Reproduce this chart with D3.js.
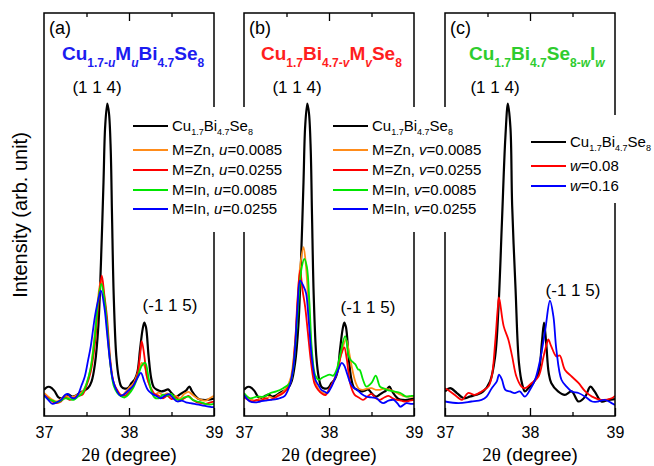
<!DOCTYPE html>
<html><head><meta charset="utf-8">
<script src="https://cdn.jsdelivr.net/npm/d3@7"></script>
<style>
html,body{margin:0;padding:0;background:#fff;}
svg{display:block;font-family:Arial,"Liberation Sans",Helvetica,sans-serif;}
</style></head>
<body><svg id="chart" width="654" height="466"></svg>
<script>
// ---------- DATA (2θ in degree, intensity in arb. unit) ----------
const xTicks = [37, 38, 39];
const xMinorTicks = [37.5, 38.5];

// undoped reference Cu1.7Bi4.7Se8 (panels a and b)
const blackAB = [[37.0,6.5],[37.04,7.2],[37.07,7.2],[37.12,6.3],[37.17,4.6],[37.21,4.4],[37.25,5.0],[37.29,5.3],[37.33,4.8],[37.37,5.0],[37.42,5.7],[37.47,6.3],[37.52,7.0],[37.56,8.6],[37.60,13.0],[37.64,22.5],[37.67,38],[37.70,58],[37.72,72],[37.745,77.5],[37.765,75],[37.785,66],[37.80,50],[37.82,30],[37.85,15],[37.88,9.5],[37.91,7.3],[37.95,6.8],[37.99,7.0],[38.03,8.2],[38.07,9.2],[38.10,11],[38.13,16.5],[38.16,21.5],[38.18,23.2],[38.20,22],[38.23,15],[38.26,9.5],[38.29,7.2],[38.33,6.5],[38.38,6.1],[38.42,6.3],[38.46,6.6],[38.50,5.7],[38.55,4.8],[38.59,5.2],[38.63,5.8],[38.67,6.3],[38.71,7.3],[38.74,6.2],[38.78,5.0],[38.82,4.2],[38.87,4.0],[38.92,4.0],[38.97,4.2],[39.0,4.3]];

// panel (a): Cu(1.7-u) M(u) Bi4.7 Se8
const aZn1 = [[37.0,5.7],[37.05,4.8],[37.1,4.0],[37.15,3.6],[37.2,4.2],[37.25,5.0],[37.3,4.6],[37.35,4.8],[37.4,5.3],[37.45,6.0],[37.5,8.0],[37.55,12],[37.6,21],[37.64,30],[37.67,33.6],[37.70,31],[37.73,25],[37.76,17],[37.8,10],[37.84,7],[37.88,5.5],[37.92,5.0],[37.96,6.0],[38.0,7.0],[38.05,8.0],[38.1,10.5],[38.15,13.2],[38.18,12.5],[38.22,9],[38.26,6.5],[38.3,5.3],[38.35,5.8],[38.4,5.2],[38.45,5.6],[38.5,4.8],[38.55,5.0],[38.6,4.4],[38.65,5.5],[38.7,6.0],[38.75,5.2],[38.8,4.4],[38.85,4.0],[38.9,3.8],[38.95,4.4],[39.0,5.0]];
const aZn2 = [[37.0,5.2],[37.05,4.4],[37.1,3.6],[37.15,3.2],[37.2,3.6],[37.25,4.6],[37.3,4.0],[37.35,4.4],[37.4,5.0],[37.45,5.25],[37.5,7.5],[37.55,11],[37.6,18],[37.64,28],[37.68,34.8],[37.71,30],[37.74,24.8],[37.78,14],[37.82,8.2],[37.86,6.5],[37.9,5.3],[37.95,5.0],[38.0,6.0],[38.05,7.5],[38.09,9.5],[38.13,15],[38.15,18.6],[38.18,15],[38.21,9.8],[38.25,7.3],[38.3,5.5],[38.35,5.0],[38.4,4.4],[38.45,5.0],[38.5,4.2],[38.55,4.6],[38.6,3.8],[38.65,4.4],[38.7,5.0],[38.75,4.0],[38.8,3.4],[38.85,3.2],[38.9,3.0],[38.95,3.3],[39.0,3.6]];
const aIn1 = [[37.0,5.0],[37.05,4.2],[37.1,3.8],[37.15,3.4],[37.2,3.8],[37.25,4.4],[37.3,4.2],[37.35,4.0],[37.4,4.8],[37.45,5.6],[37.5,8.0],[37.55,12],[37.6,20],[37.64,29],[37.675,32.75],[37.71,29],[37.74,23],[37.78,13],[37.82,7.5],[37.86,5.8],[37.9,5.0],[37.95,4.6],[38.0,5.5],[38.05,7],[38.1,9.5],[38.15,12.5],[38.19,13.2],[38.23,9.5],[38.26,6.5],[38.3,4.6],[38.35,4.4],[38.4,5.3],[38.45,5.0],[38.5,5.5],[38.55,4.2],[38.6,4.0],[38.65,4.6],[38.7,4.8],[38.75,4.0],[38.8,3.6],[38.85,3.4],[38.9,3.0],[38.95,2.8],[39.0,3.0]];
const aIn2 = [[37.0,5.25],[37.05,4.0],[37.1,3.0],[37.15,3.4],[37.2,4.0],[37.25,5.3],[37.28,5.5],[37.32,4.6],[37.36,4.4],[37.4,5.3],[37.44,7.5],[37.48,9.8],[37.52,14],[37.55,17.3],[37.6,24.8],[37.64,29],[37.67,31.1],[37.71,27],[37.74,21],[37.78,13],[37.81,9],[37.86,6.1],[37.9,5.0],[37.95,5.5],[38.0,6.5],[38.05,7.5],[38.1,9.5],[38.14,10.7],[38.18,8.5],[38.22,6.5],[38.27,5.5],[38.32,5.0],[38.37,4.4],[38.42,5.0],[38.47,5.4],[38.52,4.4],[38.57,3.6],[38.62,3.8],[38.67,3.4],[38.72,3.2],[38.77,3.0],[38.82,2.8],[38.87,2.6],[38.92,2.4],[38.97,2.2],[39.0,2.2]];

// panel (b): Cu1.7 Bi(4.7-v) M(v) Se8
const bZn1 = [[37.0,5.5],[37.05,4.6],[37.1,4.0],[37.15,3.8],[37.2,4.6],[37.25,4.2],[37.3,4.8],[37.35,4.4],[37.4,5.2],[37.45,5.8],[37.5,7.0],[37.55,9.5],[37.6,18],[37.63,28],[37.66,37],[37.70,41.9],[37.73,37],[37.76,27],[37.8,15],[37.84,8.5],[37.88,6.5],[37.92,5.8],[37.96,5.5],[38.0,6.5],[38.05,8.5],[38.1,11.5],[38.15,16],[38.2,19],[38.23,16.5],[38.27,12],[38.31,8.5],[38.35,6.8],[38.4,6.5],[38.45,6.8],[38.5,6.9],[38.55,6.5],[38.6,6.5],[38.65,6.8],[38.7,6.6],[38.76,6.1],[38.82,5.5],[38.87,5.0],[38.92,4.8],[38.97,4.8],[39.0,4.8]];
const bZn2 = [[37.0,4.6],[37.05,4.0],[37.1,3.6],[37.15,4.0],[37.2,3.8],[37.25,4.4],[37.3,4.0],[37.35,4.4],[37.4,5.0],[37.45,5.5],[37.5,6.5],[37.55,8.5],[37.6,18],[37.63,29],[37.66,36.1],[37.69,31],[37.72,27],[37.75,21],[37.79,13],[37.83,8],[37.87,6.5],[37.92,5.5],[37.96,5.2],[38.0,6.5],[38.05,8.5],[38.1,11],[38.14,15],[38.18,17],[38.21,14],[38.25,8],[38.3,5.3],[38.35,4.6],[38.4,4.0],[38.45,4.8],[38.5,5.5],[38.55,4.4],[38.6,4.0],[38.65,4.6],[38.7,5.0],[38.75,4.4],[38.8,4.0],[38.85,3.8],[38.9,3.6],[38.95,3.8],[39.0,4.0]];
const bIn1 = [[37.0,5.7],[37.07,4.4],[37.15,4.8],[37.23,4.8],[37.31,5.7],[37.38,6.1],[37.46,6.9],[37.54,8.2],[37.58,12],[37.62,22],[37.65,31],[37.68,37],[37.71,39],[37.74,37],[37.77,28],[37.8,16],[37.84,10],[37.88,9.0],[37.92,9.5],[37.95,9.8],[38.01,10.25],[38.05,10.0],[38.09,11.5],[38.13,15],[38.19,19.8],[38.23,15],[38.25,14],[38.29,13.2],[38.31,12.8],[38.345,11.5],[38.36,11.5],[38.4,9],[38.44,7.3],[38.5,8.2],[38.55,10.0],[38.6,7.3],[38.64,6.9],[38.68,6.5],[38.76,6.1],[38.84,5.7],[38.91,4.8],[38.97,5.0],[39.0,5.0]];
const bIn2 = [[37.0,5.25],[37.07,3.6],[37.15,3.4],[37.19,3.6],[37.25,3.8],[37.31,4.0],[37.38,4.2],[37.42,4.4],[37.48,5.0],[37.54,7.75],[37.58,12],[37.6,16.5],[37.63,27],[37.66,33.6],[37.70,32.2],[37.73,30.5],[37.76,24],[37.8,14],[37.84,9.0],[37.88,7.5],[37.91,6.5],[37.95,6.0],[37.98,5.7],[38.01,6.5],[38.05,8.2],[38.09,10.5],[38.11,11.5],[38.15,13.2],[38.18,12.5],[38.21,10.7],[38.25,8.2],[38.29,7.0],[38.33,6.5],[38.38,5.5],[38.44,4.8],[38.5,4.6],[38.56,4.4],[38.6,3.6],[38.64,3.2],[38.7,3.8],[38.76,4.0],[38.81,3.0],[38.84,2.3],[38.91,3.2],[38.97,3.0],[39.0,3.0]];

// panel (c): Cu1.7 Bi4.7 Se(8-w) I(w)
const blackC = [[37.0,6.1],[37.06,6.9],[37.14,5.7],[37.22,4.4],[37.29,4.8],[37.37,5.25],[37.45,6.1],[37.53,8.6],[37.59,14.8],[37.63,27.3],[37.67,48.2],[37.71,69],[37.74,77.5],[37.77,71.5],[37.79,52.3],[37.83,31.5],[37.87,13.2],[37.91,7.75],[37.94,6.1],[37.98,6.9],[38.04,8.2],[38.10,10.7],[38.14,18.2],[38.165,23.2],[38.19,18.2],[38.22,10.7],[38.25,8.2],[38.33,6.1],[38.41,5.25],[38.49,6.1],[38.57,3.6],[38.65,4.8],[38.71,7.3],[38.76,6.1],[38.84,3.6],[38.92,4.0],[39.0,4.2]];
const cW1 = [[37.0,6.9],[37.06,6.1],[37.14,4.8],[37.2,4.0],[37.27,5.7],[37.35,5.25],[37.43,6.1],[37.51,7.3],[37.55,9.8],[37.59,18.2],[37.62,26.5],[37.635,29.4],[37.69,22.3],[37.745,19],[37.79,14.8],[37.84,9.8],[37.9,7.3],[37.94,6.9],[38.02,8.2],[38.1,9.8],[38.16,14.8],[38.2,18.2],[38.215,19],[38.25,17.3],[38.31,14.8],[38.35,15.0],[38.41,11.5],[38.49,9.8],[38.57,8.2],[38.65,6.1],[38.73,4.8],[38.84,4.0],[38.96,4.4],[39.0,5.0]];
const cW2 = [[37.0,3.6],[37.16,3.2],[37.31,3.6],[37.43,4.0],[37.49,4.8],[37.55,6.9],[37.61,8.6],[37.635,10.25],[37.67,9],[37.71,6.5],[37.765,6.1],[37.82,5.7],[37.88,6.1],[37.94,4.8],[38.0,6.5],[38.06,9],[38.12,14],[38.18,21.5],[38.235,28.6],[38.275,24.8],[38.31,16.5],[38.37,9],[38.43,7.3],[38.49,6.1],[38.57,5.7],[38.65,4.8],[38.73,3.6],[38.8,3.6],[38.88,4.0],[38.96,3.2],[39.0,2.75]];

const colors = {black:"#000000", orange:"#ff8c1a", red:"#ff0000", green:"#00e600", blue:"#0000ff"};

// ---------- LAYOUT ----------
const svg = d3.select("#chart");
const yTop = 13, yBot = 416, panelW = 170;
const panelX = [44, 244, 445];
const y = d3.scaleLinear().domain([0, 100]).range([yBot, yTop]);

const sub = (t, it) => ({t, sub:true, it:!!it});
const nor = (t, it) => ({t, sub:false, it:!!it});

function rich(g, x, yy, parts, opts) {
  const t = g.append("text").attr("x", x).attr("y", yy)
    .attr("font-size", opts.size).attr("fill", opts.color || "#000")
    .attr("font-weight", opts.bold ? "bold" : "normal");
  if (opts.anchor) t.attr("text-anchor", opts.anchor);
  let shifted = false;
  parts.forEach(p => {
    const s = t.append("tspan").text(p.t);
    if (p.it) s.attr("font-style", "italic");
    if (p.sub) {
      s.attr("font-size", opts.subSize);
      if (!shifted) { s.attr("dy", opts.subDy); shifted = true; }
    } else {
      if (shifted) { s.attr("dy", -opts.subDy); shifted = false; }
    }
  });
  return t;
}

const refLabel = [nor("Cu"), sub("1.7"), nor("Bi"), sub("4.7"), nor("Se"), sub("8")];

const panels = [
  { key:"a", x0:panelX[0], label:"(a)",
    title:[nor("Cu"), sub("1.7-"), sub("u",1), nor("M"), sub("u",1), nor("Bi"), sub("4.7"), nor("Se"), sub("8")],
    titleColor:"#1c1cf0", titleX:62,
    series:[
      {d:blackAB, c:colors.black, w:2.2, lab:refLabel},
      {d:aZn1, c:colors.orange, w:1.8, lab:[nor("M=Zn, "), nor("u",1), nor("=0.0085")]},
      {d:aZn2, c:colors.red, w:1.8, lab:[nor("M=Zn, "), nor("u",1), nor("=0.0255")]},
      {d:aIn1, c:colors.green, w:1.8, lab:[nor("M=In, "), nor("u",1), nor("=0.0085")]},
      {d:aIn2, c:colors.blue, w:1.8, lab:[nor("M=In, "), nor("u",1), nor("=0.0255")]}
    ],
    leg:{x:133, rows:[126,150,170,190,209], box:[128,107,132,125]},
    p114:97, p115:[170,311]
  },
  { key:"b", x0:panelX[1], label:"(b)",
    title:[nor("Cu"), sub("1.7"), nor("Bi"), sub("4.7-"), sub("v",1), nor("M"), sub("v",1), nor("Se"), sub("8")],
    titleColor:"#ff1e1e", titleX:261,
    series:[
      {d:blackAB, c:colors.black, w:2.2, lab:refLabel},
      {d:bZn1, c:colors.orange, w:1.8, lab:[nor("M=Zn, "), nor("v",1), nor("=0.0085")]},
      {d:bZn2, c:colors.red, w:1.8, lab:[nor("M=Zn, "), nor("v",1), nor("=0.0255")]},
      {d:bIn1, c:colors.green, w:1.8, lab:[nor("M=In, "), nor("v",1), nor("=0.0085")]},
      {d:bIn2, c:colors.blue, w:1.8, lab:[nor("M=In, "), nor("v",1), nor("=0.0255")]}
    ],
    leg:{x:333, rows:[126,150,170,190,209], box:[328,107,132,125]},
    p114:297, p115:[368,313]
  },
  { key:"c", x0:panelX[2], label:"(c)",
    title:[nor("Cu"), sub("1.7"), nor("Bi"), sub("4.7"), nor("Se"), sub("8-"), sub("w",1), nor("I"), sub("w",1)],
    titleColor:"#2ecc2e", titleX:469,
    series:[
      {d:blackC, c:colors.black, w:2.2, lab:refLabel},
      {d:cW1, c:colors.red, w:1.8, lab:[nor("w",1), nor("=0.08")]},
      {d:cW2, c:colors.blue, w:1.8, lab:[nor("w",1), nor("=0.16")]}
    ],
    leg:{x:531, rows:[142,166,186], box:[526,115,128,88]},
    p114:495, p115:[573,296]
  }
];

// ---------- PANELS ----------
panels.forEach((P, i) => {
  const x = d3.scaleLinear().domain([37, 39]).range([P.x0, P.x0 + panelW]);
  const g = svg.append("g");
  g.append("clipPath").attr("id", "clip" + i).append("rect")
    .attr("x", P.x0).attr("y", yTop).attr("width", panelW).attr("height", yBot - yTop);

  const line = d3.line().x(d => x(d[0])).y(d => y(d[1])).curve(d3.curveCatmullRom.alpha(0.5));
  const cg = g.append("g").attr("clip-path", `url(#clip${i})`);
  P.series.forEach(s => {
    cg.append("path").datum(s.d).attr("d", line).attr("fill", "none")
      .attr("stroke", s.c).attr("stroke-width", s.w).attr("stroke-linejoin", "round");
  });

  // axes (inward ticks)
  const axB = g.append("g").attr("transform", `translate(0,${yBot})`)
    .call(d3.axisBottom(x).tickValues(xTicks).tickSizeInner(-8).tickSizeOuter(0).tickFormat(d3.format("d")).tickPadding(11));
  axB.selectAll(".tick line").attr("stroke-width", 1.3);
  axB.select(".domain").remove();
  axB.selectAll(".tick text").attr("font-size", 16).attr("font-family", "Arial, 'Liberation Sans', sans-serif").attr("fill", "#000");
  const axBm = g.append("g").attr("transform", `translate(0,${yBot})`)
    .call(d3.axisBottom(x).tickValues(xMinorTicks).tickSizeInner(-4).tickSizeOuter(0).tickFormat(""));
  axBm.select(".domain").remove();
  axBm.selectAll(".tick line").attr("stroke-width", 1.3);
  const axT = g.append("g").attr("transform", `translate(0,${yTop})`)
    .call(d3.axisTop(x).tickValues([38]).tickSizeInner(-8).tickSizeOuter(0).tickFormat(""));
  axT.select(".domain").remove();
  axT.selectAll(".tick line").attr("stroke-width", 1.3);
  const axTm = g.append("g").attr("transform", `translate(0,${yTop})`)
    .call(d3.axisTop(x).tickValues(xMinorTicks).tickSizeInner(-4).tickSizeOuter(0).tickFormat(""));
  axTm.select(".domain").remove();
  axTm.selectAll(".tick line").attr("stroke-width", 1.3);

  g.append("rect").attr("x", P.x0).attr("y", yTop).attr("width", panelW).attr("height", yBot - yTop)
    .attr("fill", "none").attr("stroke", "#000").attr("stroke-width", 1.5);

  // panel letter
  g.append("text").attr("x", P.x0 + 5).attr("y", 34).attr("font-size", 18).text(P.label);
  // title
  rich(g, P.titleX, 60, P.title, {size:19, subSize:12, subDy:7, bold:true, color:P.titleColor});
  // peak labels
  g.append("text").attr("x", P.p114).attr("y", 93).attr("text-anchor", "middle").attr("font-size", 17).text("(1 1 4)");
  g.append("text").attr("x", P.p115[0]).attr("y", P.p115[1]).attr("text-anchor", "middle").attr("font-size", 17).text("(-1 1 5)");

  // x axis title
  const xt = g.append("text").attr("x", P.x0 + panelW / 2).attr("y", 461).attr("text-anchor", "middle").attr("font-size", 19);
  xt.append("tspan").attr("font-family", "'Liberation Serif','DejaVu Serif',serif").text("2θ");
  xt.append("tspan").text(" (degree)");
});

// ---------- LEGENDS (drawn on top) ----------
panels.forEach(P => {
  const L = P.leg;
  const g = svg.append("g");
  g.append("rect").attr("x", L.box[0]).attr("y", L.box[1]).attr("width", L.box[2]).attr("height", L.box[3]).attr("fill", "#fff");
  P.series.forEach((s, j) => {
    const ry = L.rows[j];
    g.append("line").attr("x1", L.x).attr("x2", L.x + 35).attr("y1", ry).attr("y2", ry)
      .attr("stroke", s.c).attr("stroke-width", 2);
    rich(g, L.x + 39, ry + 5, s.lab, {size:15, subSize:9, subDy:4});
  });
});

// y axis title
svg.append("text").attr("transform", "translate(27,215) rotate(-90)").attr("text-anchor", "middle")
  .attr("font-size", 20).text("Intensity (arb. unit)");
</script></body></html>
